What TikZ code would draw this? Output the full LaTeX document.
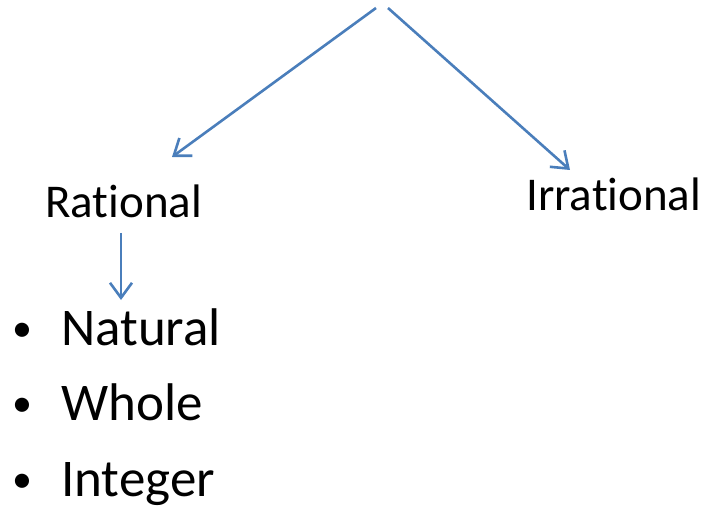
\documentclass[tikz,border=0pt]{standalone}
\usepackage{fontspec}
\setmainfont[RawFeature=-liga]{Carlito}
\usetikzlibrary{arrows.meta}
\definecolor{officeblue}{HTML}{4A7EBB}
\tikzset{
	branch/.style={line width=2.6pt, color=officeblue, -{Straight Barb[length=15pt, width=22pt, line width=2.6pt]}},
	kindtext/.style={anchor=base west, inner sep=0pt, font=\fontsize{47}{50}\selectfont},
	listtext/.style={anchor=base west, inner sep=0pt, font=\fontsize{53}{56}\selectfont},
	dot/.style={anchor=base west, inner sep=0pt, font=\fontsize{40}{44}\selectfont},
}

\begin{document}
\begin{tikzpicture}[x=1pt, y=-1pt]
			%%%%% START %%%%%
			
			\useasboundingbox (0, 0) rectangle (705, 508);
			
			\coordinate (topL) at (376, 8);
			\coordinate (topR) at (388, 8);
			\coordinate (ratEnd) at (172, 157);
			\coordinate (irrEnd) at (570, 170);
			
			\node[kindtext] (rat) at (45, 218) {Rational};
			\node[kindtext] (irr) at (526, 211) {Irrational};
			
			\draw[branch] (topL) -- (ratEnd);
			\draw[branch] (topR) -- (irrEnd);
			
			\coordinate (downEnd) at (121, 300);
			\draw[branch] (121, 233) -- (downEnd);
			
			\node[listtext] (nat) at (61, 345) {Natural};
			\node[listtext] (who) at (61, 420) {Whole};
			\node[listtext] (int) at (61, 496) {Integer};
			
			\node[dot] (b1) at (12, 341) {•};
			\node[dot] (b2) at (12, 416) {•};
			\node[dot] (b3) at (12, 492) {•};
			
			%%%%% END %%%%%
\end{tikzpicture}
\end{document}
